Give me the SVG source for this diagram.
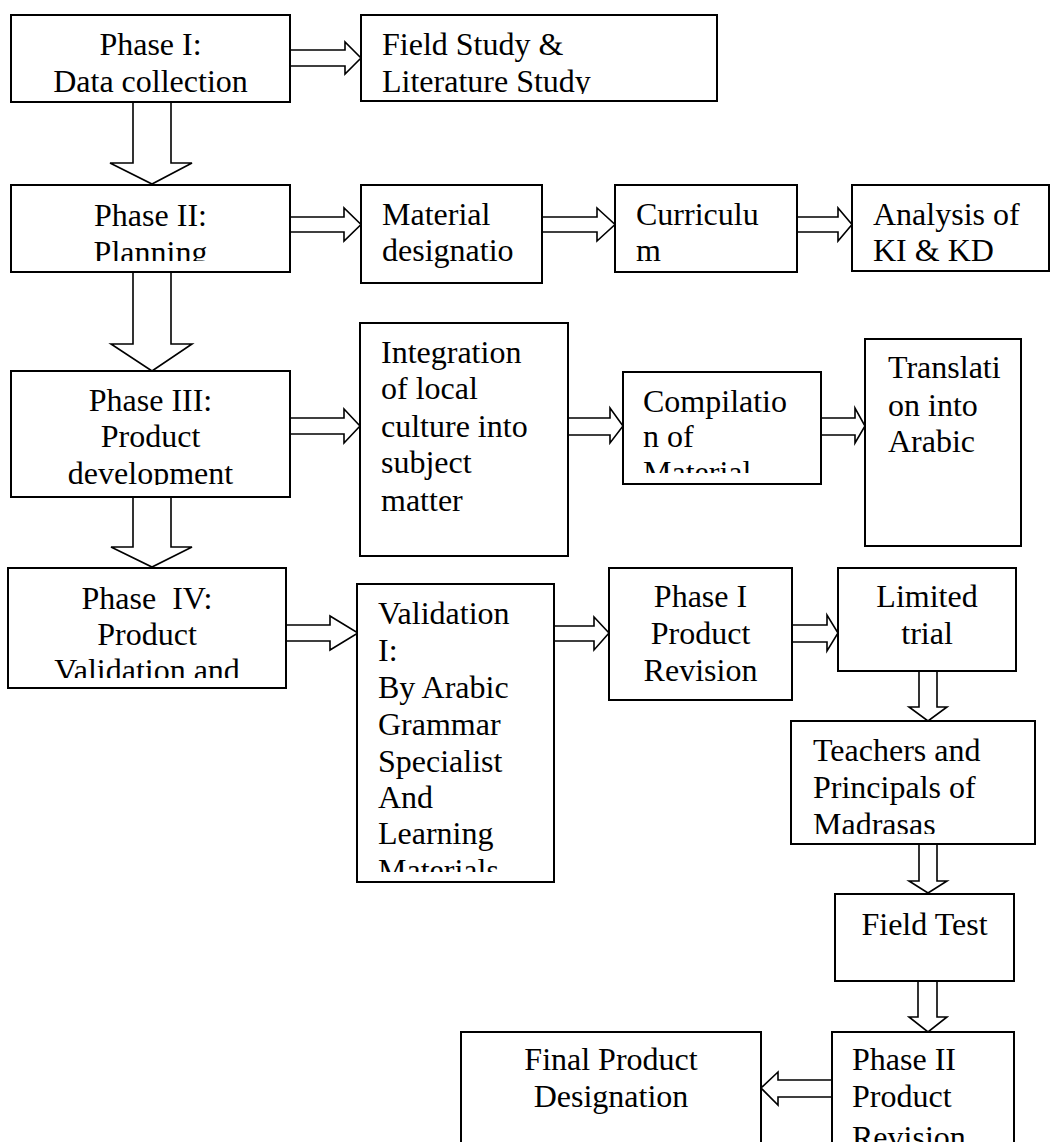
<svg xmlns="http://www.w3.org/2000/svg" width="1051" height="1142" viewBox="0 0 1051 1142">
<style>
.box{fill:#fff;stroke:#000;stroke-width:2}
.arr{fill:#fff;stroke:#000;stroke-width:1.6;stroke-linejoin:miter}
text{font-family:"Liberation Serif","Times New Roman",serif;font-size:32px;fill:#000}
.c{text-anchor:middle}
</style>
<defs>
<clipPath id="cpB2"><rect x="361" y="15" width="356" height="79"/></clipPath>
<clipPath id="cpB3"><rect x="11" y="185" width="279" height="76"/></clipPath>
<clipPath id="cpB7"><rect x="11" y="371" width="279" height="114"/></clipPath>
<clipPath id="cpB9"><rect x="623" y="372" width="198" height="101"/></clipPath>
<clipPath id="cpB11"><rect x="8" y="568" width="278" height="110"/></clipPath>
<clipPath id="cpB12"><rect x="357" y="584" width="197" height="288"/></clipPath>
<clipPath id="cpB15"><rect x="791" y="721" width="244" height="113"/></clipPath>
<clipPath id="cpB18"><rect x="832" y="1032" width="182" height="110"/></clipPath>
</defs>
<rect width="1051" height="1142" fill="#fff"/>

<g id="connectors">
<polygon class="arr" points="290,50 345,50 345,42 361,58 345,74 345,66 290,66"/>
<polygon class="arr" points="133,102 171,102 171,163 192,163 152,184 110,163 133,163"/>
<polygon class="arr" points="290,217 344,217 344,208 361,224.5 344,241 344,232 290,232"/>
<polygon class="arr" points="542,217 597,217 597,208 615,224.5 597,241 597,232 542,232"/>
<polygon class="arr" points="797,217 838,217 838,208 852,224.5 838,241 838,232 797,232"/>
<polygon class="arr" points="133,272 171,272 171,344 192,344 152,371 111,344 133,344"/>
<polygon class="arr" points="290,418 344,418 344,409 360,426 344,443 344,434 290,434"/>
<polygon class="arr" points="568,418 610,418 610,408 623,426 610,443 610,435 568,435"/>
<polygon class="arr" points="821,418 855,418 855,408 865,426 855,443 855,435 821,435"/>
<polygon class="arr" points="133,497 171,497 171,547 192,547 152,567 111,547 133,547"/>
<polygon class="arr" points="286,625 330,625 330,616 358,633 330,650 330,641 286,641"/>
<polygon class="arr" points="554,626 594,626 594,617 609,633 594,650 594,641 554,641"/>
<polygon class="arr" points="792,625 827,625 827,615 838,633 827,651 827,642 792,642"/>
<polygon class="arr" points="919,671 937,671 937,707 947,707 928,721 909,707 919,707"/>
<polygon class="arr" points="919,844 937,844 937,881 947,881 928,893 909,881 919,881"/>
<polygon class="arr" points="918,981 937,981 937,1017 947,1017 928,1032 909,1017 918,1017"/>
<polygon class="arr" points="832,1080 778,1080 778,1072 761,1088 778,1105 778,1097 832,1097"/>
</g>

<g id="phase1">
<rect class="box" x="11" y="15" width="279" height="87"/>
<text class="c" x="150.5" y="55">Phase I:</text>
<text class="c" x="150.5" y="92">Data collection</text>
</g>
<g id="field-literature">
<rect class="box" x="361" y="15" width="356" height="86"/>
<g clip-path="url(#cpB2)">
<text x="382" y="55">Field Study &amp;</text>
<text x="382" y="92">Literature Study</text>
</g>
</g>
<g id="phase2">
<rect class="box" x="11" y="185" width="279" height="87"/>
<g clip-path="url(#cpB3)">
<text class="c" x="150.5" y="226">Phase II:</text>
<text class="c" x="150.5" y="263">Planning</text>
</g>
</g>
<g id="material">
<rect class="box" x="361" y="185" width="181" height="98"/>
<text x="382" y="225">Material</text>
<text x="382" y="261">designatio</text>
</g>
<g id="curriculum">
<rect class="box" x="615" y="185" width="182" height="87"/>
<text x="636" y="225">Curriculu</text>
<text x="636" y="261">m</text>
</g>
<g id="analysis">
<rect class="box" x="852" y="185" width="197" height="86"/>
<text x="873" y="225">Analysis of</text>
<text x="873" y="261">KI &amp; KD</text>
</g>
<g id="phase3">
<rect class="box" x="11" y="371" width="279" height="126"/>
<g clip-path="url(#cpB7)">
<text class="c" x="150.5" y="411">Phase III:</text>
<text class="c" x="150.5" y="447">Product</text>
<text class="c" x="150.5" y="484">development</text>
</g>
</g>
<g id="integration">
<rect class="box" x="360" y="323" width="208" height="233"/>
<text x="381" y="363">Integration</text>
<text x="381" y="399">of local</text>
<text x="381" y="437">culture into</text>
<text x="381" y="473">subject</text>
<text x="381" y="511">matter</text>
</g>
<g id="compilation">
<rect class="box" x="623" y="372" width="198" height="112"/>
<g clip-path="url(#cpB9)">
<text x="643" y="412">Compilatio</text>
<text x="643" y="447">n of</text>
<text x="643" y="483">Material</text>
</g>
</g>
<g id="translation">
<rect class="box" x="865" y="339" width="156" height="207"/>
<text x="888" y="378">Translati</text>
<text x="888" y="416">on into</text>
<text x="888" y="452">Arabic</text>
</g>
<g id="phase4">
<rect class="box" x="8" y="568" width="278" height="120"/>
<g clip-path="url(#cpB11)">
<text class="c" x="147" y="609" style="white-space:pre">Phase  IV:</text>
<text class="c" x="147" y="645">Product</text>
<text class="c" x="147" y="681">Validation and</text>
</g>
</g>
<g id="validation1">
<rect class="box" x="357" y="584" width="197" height="298"/>
<g clip-path="url(#cpB12)">
<text x="378" y="624">Validation</text>
<text x="378" y="661">I:</text>
<text x="378" y="698">By Arabic</text>
<text x="378" y="735">Grammar</text>
<text x="378" y="772">Specialist</text>
<text x="378" y="808">And</text>
<text x="378" y="844">Learning</text>
<text x="378" y="881">Materials</text>
</g>
</g>
<g id="phase1-revision">
<rect class="box" x="609" y="568" width="183" height="132"/>
<text class="c" x="700.5" y="607">Phase I</text>
<text class="c" x="700.5" y="644">Product</text>
<text class="c" x="700.5" y="681">Revision</text>
</g>
<g id="limited-trial">
<rect class="box" x="838" y="568" width="178" height="103"/>
<text class="c" x="927" y="607">Limited</text>
<text class="c" x="927" y="644">trial</text>
</g>
<g id="teachers">
<rect class="box" x="791" y="721" width="244" height="123"/>
<g clip-path="url(#cpB15)">
<text x="813" y="761">Teachers and</text>
<text x="813" y="798">Principals of</text>
<text x="813" y="835">Madrasas</text>
</g>
</g>
<g id="field-test">
<rect class="box" x="835" y="894" width="179" height="87"/>
<text class="c" x="924.5" y="935">Field Test</text>
</g>
<g id="final-product">
<rect class="box" x="461" y="1032" width="300" height="130"/>
<text class="c" x="611" y="1070">Final Product</text>
<text class="c" x="611" y="1107">Designation</text>
</g>
<g id="phase2-revision">
<rect class="box" x="832" y="1032" width="182" height="130"/>
<g clip-path="url(#cpB18)">
<text x="852" y="1070">Phase II</text>
<text x="852" y="1107">Product</text>
<text x="852" y="1148">Revision</text>
</g>
</g>
</svg>
